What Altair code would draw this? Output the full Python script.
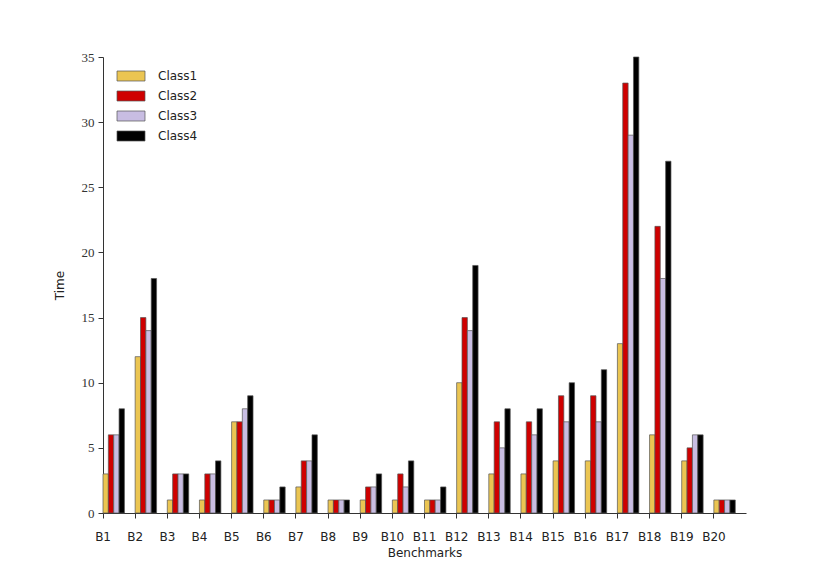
import altair as alt
import pandas as pd

benchmarks = [f"B{i}" for i in range(1, 21)]
classes = ["Class1", "Class2", "Class3", "Class4"]
class1 = [3, 12, 1, 1, 7, 1, 2, 1, 1, 1, 1, 10, 3, 3, 4, 4, 13, 6, 4, 1]
class2 = [6, 15, 3, 3, 7, 1, 4, 1, 2, 3, 1, 15, 7, 7, 9, 9, 33, 22, 5, 1]
class3 = [6, 14, 3, 3, 8, 1, 4, 1, 2, 2, 1, 14, 5, 6, 7, 7, 29, 18, 6, 1]
class4 = [8, 18, 3, 4, 9, 2, 6, 1, 3, 4, 2, 19, 8, 8, 10, 11, 35, 27, 6, 1]
colors = ["#EBC552", "#CF0000", "#C8BDE2", "#000000"]

rows = []
for cls, vals in zip(classes, [class1, class2, class3, class4]):
    for b, v in zip(benchmarks, vals):
        rows.append({"Benchmark": b, "Class": cls, "Time": v})
df = pd.DataFrame(rows)

chart = alt.Chart(df).mark_bar(stroke="#555555", strokeWidth=0.7).encode(
    x=alt.X("Benchmark:N", sort=benchmarks,
            scale=alt.Scale(paddingInner=0, paddingOuter=0),
            axis=alt.Axis(title="Benchmarks", bandPosition=0, labelAngle=0,
                          labelOffset=-16,
                          labelFont="DejaVu Sans", labelFontSize=12, labelColor="#222",
                          labelPadding=13, tickSize=5, tickColor="#333", domainColor="#333",
                          titleFont="DejaVu Sans", titleFontSize=12, titleFontWeight="normal",
                          titleColor="#222", titlePadding=5)),
    xOffset=alt.XOffset("Class:N", sort=classes,
                        scale=alt.Scale(paddingInner=0, paddingOuter=1, align=0)),
    y=alt.Y("Time:Q", scale=alt.Scale(domain=[0, 35], nice=False),
            axis=alt.Axis(title="Time", values=list(range(0, 36, 5)), grid=False,
                          labelFont="Liberation Serif", labelFontSize=13, labelColor="#333",
                          tickSize=5, tickColor="#333", domainColor="#333", labelPadding=4,
                          titleFont="DejaVu Sans", titleFontSize=12, titleFontWeight="normal",
                          titleColor="#222", titlePadding=15)),
    color=alt.Color("Class:N", sort=classes,
                    scale=alt.Scale(domain=classes, range=colors),
                    legend=alt.Legend(title=None, orient="none", legendX=22, legendY=13,
                                      symbolType="M-2.8,-1 L2.8,-1 L2.8,1 L-2.8,1 Z",
                                      symbolSize=100, symbolStrokeColor="#555555",
                                      symbolStrokeWidth=0.7, symbolOpacity=1,
                                      labelFont="DejaVu Sans", labelFontSize=12,
                                      labelColor="#222", labelOffset=21, rowPadding=6)),
).properties(
    width=643, height=456,
    padding={"left": 95, "top": 49, "right": 70, "bottom": 55},
    autosize=alt.AutoSizeParams(type="none"),
).configure_view(stroke=None).configure_axis(grid=False)

chart.save("out.html", embed_options={"renderer": "svg", "actions": False})
